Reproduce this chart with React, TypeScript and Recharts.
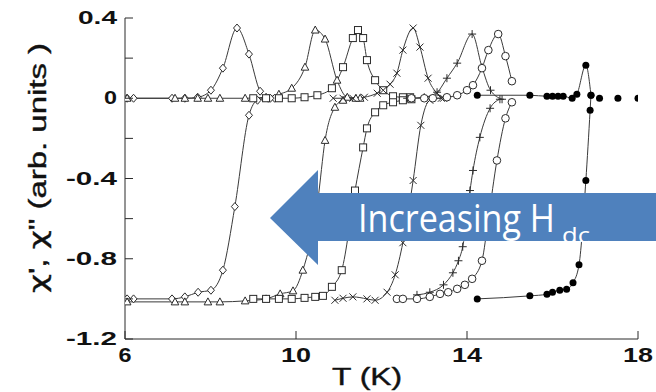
import { LineChart, Line, XAxis, YAxis } from "recharts";

type Pt = { t: number; v: number };
const pts = (pairs: number[][]): Pt[] => pairs.map(([t, v]) => ({ t, v }));

// temperature (K) vs chi (arb. units), one pair of curves per dc field
const diamondChi2 = pts([[6.05, 0], [6.2, 0], [7.1, 0], [7.4, 0], [7.7, 0.005], [8.01, 0.04], [8.29, 0.15], [8.62, 0.35], [8.9, 0.22], [9.16, 0.035], [9.35, 0], [9.5, 0]]);
const diamondChi1 = pts([[6.05, -1.0], [6.2, -1.0], [7.1, -1.0], [7.4, -0.99], [7.71, -0.967], [8.01, -0.957], [8.29, -0.857], [8.57, -0.54], [8.9, -0.085], [9.1, -0.01], [9.4, 0]]);

const triangleChi2 = pts([[6.05, 0], [7.17, 0], [7.4, 0], [7.7, 0], [7.94, 0], [8.22, 0], [8.81, 0], [9.3, 0.005], [9.6, 0.02], [9.9, 0.05], [10.21, 0.155], [10.45, 0.34], [10.68, 0.295], [10.96, 0.09], [11.2, 0.005], [11.5, 0]]);
const triangleChi1 = pts([[6.05, -1.015], [7.17, -1.015], [7.4, -1.015], [7.94, -1.015], [8.22, -1.015], [8.81, -1.01], [9.3, -1.0], [9.63, -0.975], [9.93, -0.96], [10.16, -0.857], [10.51, -0.51], [10.68, -0.21], [10.91, -0.045], [11.1, -0.01], [11.4, 0]]);

const squareChi2 = pts([[9.0, 0], [9.3, 0], [9.6, 0], [9.9, 0], [10.2, 0.005], [10.5, 0.015], [10.84, 0.05], [11.1, 0.155], [11.33, 0.3], [11.45, 0.34], [11.57, 0.3], [11.66, 0.19], [11.85, 0.09], [12.04, 0.04], [12.27, 0.01], [12.5, 0.005], [12.67, 0.005]]);
const squareChi1 = pts([[9.0, -1.0], [9.3, -1.0], [9.6, -1.0], [9.9, -1.0], [10.2, -0.995], [10.45, -0.99], [10.63, -0.985], [10.84, -0.94], [11.07, -0.857], [11.38, -0.46], [11.57, -0.245], [11.66, -0.15], [11.85, -0.07], [12.04, -0.035], [12.27, -0.02], [12.5, -0.01], [12.7, -0.005]]);

const crossChi2 = pts([[10.87, 0], [11.1, 0], [11.33, 0], [11.6, 0.005], [11.9, 0.025], [12.04, 0.04], [12.2, 0.07], [12.36, 0.125], [12.5, 0.24], [12.74, 0.35], [12.9, 0.255], [13.09, 0.1], [13.3, 0.025], [13.45, 0]]);
const crossChi1 = pts([[10.91, -1.007], [11.1, -0.997], [11.33, -0.99], [11.66, -1.0], [11.85, -1.007], [12.13, -0.967], [12.32, -0.88], [12.5, -0.72], [12.74, -0.41], [12.92, -0.135], [13.13, -0.01], [13.4, 0]]);

const plusChi2 = pts([[12.6, 0], [13.0, 0.005], [13.3, 0.03], [13.53, 0.1], [13.77, 0.175], [14.12, 0.32], [14.35, 0.155], [14.55, 0.04], [14.82, -0.005]]);
const plusChi1 = pts([[12.83, -0.98], [13.13, -0.967], [13.45, -0.93], [13.67, -0.87], [13.8, -0.81], [13.9, -0.74], [14.07, -0.46], [14.14, -0.36], [14.3, -0.195], [14.54, -0.05], [14.77, -0.005]]);

const circleChi2 = pts([[12.7, 0], [13.0, 0], [13.2, 0], [13.53, 0.005], [13.77, 0.015], [14.0, 0.04], [14.14, 0.065], [14.35, 0.15], [14.5, 0.24], [14.73, 0.32], [14.9, 0.21], [15.05, 0.085]]);
const circleChi1 = pts([[12.36, -1.0], [12.5, -1.0], [12.83, -1.0], [13.13, -0.99], [13.37, -0.975], [13.56, -0.967], [13.77, -0.95], [13.95, -0.93], [14.12, -0.9], [14.35, -0.81], [14.5, -0.6], [14.7, -0.31], [14.9, -0.1], [15.05, -0.02]]);

const filledChi2 = pts([[14.24, 0.015], [15.47, 0.015], [15.87, 0.01], [16.0, 0.01], [16.13, 0.01], [16.25, 0.01], [16.46, 0], [16.57, 0.02], [16.78, 0.165], [16.9, 0.015]]);
const filledTail = pts([[17.1, 0], [17.53, 0], [18.0, 0]]);
const filledChi1 = pts([[14.24, -1.0], [15.47, -0.985], [15.87, -0.977], [16.0, -0.967], [16.17, -0.957], [16.33, -0.952], [16.48, -0.92], [16.62, -0.83], [16.78, -0.41], [16.88, -0.06], [16.9, 0.015]]);

const xTicks = [6, 10, 14, 18];
const yTicks = [0.4, 0.2, 0, -0.2, -0.4, -0.6, -0.8, -1.0, -1.2];

const series = [
  { id: "diamond", curves: [diamondChi2, diamondChi1] },
  { id: "triangle", curves: [triangleChi2, triangleChi1] },
  { id: "square", curves: [squareChi2, squareChi1] },
  { id: "cross", curves: [crossChi2, crossChi1] },
  { id: "plus", curves: [plusChi2, plusChi1] },
  { id: "circle", curves: [circleChi2, circleChi1] },
  { id: "filled", curves: [filledChi2, filledChi1] },
];

const INK = "#2b2b2b";
const FONT = "'Liberation Sans', Arial, sans-serif";

function Marker({ kind, cx, cy }: { kind: string; cx: number; cy: number }) {
  const s = { stroke: INK, strokeWidth: 1, fill: "#fff" };
  switch (kind) {
    case "diamond":
      return <polygon points={`${cx},${cy - 4} ${cx + 3.5},${cy} ${cx},${cy + 4} ${cx - 3.5},${cy}`} {...s} />;
    case "triangle":
      return <polygon points={`${cx},${cy - 4} ${cx + 3.8},${cy + 3} ${cx - 3.8},${cy + 3}`} {...s} />;
    case "square":
      return <rect x={cx - 3.5} y={cy - 3.5} width={7} height={7} {...s} />;
    case "cross":
      return (
        <g stroke={INK} strokeWidth={1}>
          <line x1={cx - 3.5} y1={cy - 3.5} x2={cx + 3.5} y2={cy + 3.5} />
          <line x1={cx - 3.5} y1={cy + 3.5} x2={cx + 3.5} y2={cy - 3.5} />
        </g>
      );
    case "plus":
      return (
        <g stroke={INK} strokeWidth={1}>
          <line x1={cx - 4} y1={cy} x2={cx + 4} y2={cy} />
          <line x1={cx} y1={cy - 4} x2={cx} y2={cy + 4} />
        </g>
      );
    case "circle":
      return <circle cx={cx} cy={cy} r={3.8} {...s} />;
    default:
      return <circle cx={cx} cy={cy} r={3.5} fill="#000" />;
  }
}

const dotFor = (kind: string) => (p: any) => (
  <g key={`${kind}-${p.index}-${p.cx}`}>
    <Marker kind={kind} cx={p.cx} cy={p.cy} />
  </g>
);

const yLabel = (v: number) => (Math.abs(Math.round(v * 10)) % 4 === 0 ? (Math.abs(v) < 1e-9 ? "0" : v.toFixed(1)) : "");

function LeftTick(p: any) {
  const v = p.payload.value;
  const label = yLabel(v);
  return (
    <g>
      <line x1={p.x + 8} x2={p.x + 16} y1={p.y} y2={p.y} stroke={INK} />
      {label && (
        <text x={p.x} y={p.y + 6} textAnchor="end" fontFamily={FONT} fontWeight="bold" fontSize={18}
          textLength={label.length * 13 - (label.startsWith("-") ? 1 : 0)} lengthAdjust="spacingAndGlyphs" fill="#111">
          {label}
        </text>
      )}
    </g>
  );
}

function RightTick(p: any) {
  return <line x1={p.x - 8} x2={p.x - 16} y1={p.y} y2={p.y} stroke={INK} />;
}

function BottomTick(p: any) {
  const label = String(p.payload.value);
  return (
    <g>
      <line x1={p.x} x2={p.x} y1={p.y - 8} y2={p.y - 16} stroke={INK} />
      <text x={p.x} y={p.y + 15} textAnchor="middle" fontFamily={FONT} fontWeight="bold" fontSize={21}
        textLength={label.length === 1 ? 13 : 30} lengthAdjust="spacingAndGlyphs" fill="#111">
        {label}
      </text>
    </g>
  );
}

function TopTick(p: any) {
  return <line x1={p.x} x2={p.x} y1={p.y + 8} y2={p.y + 16} stroke={INK} />;
}

export default function App() {
  return (
    <div style={{ position: "fixed", left: 0, top: 0, width: 656, height: 392, background: "#fff" }}>
      <LineChart width={656} height={392} margin={{ top: 18, right: 18, bottom: 0, left: 0 }}>
        <XAxis dataKey="t" type="number" domain={[6, 18]} ticks={xTicks} height={53} tickSize={8} tickMargin={0}
          tickLine={false} axisLine={{ stroke: INK }} tick={BottomTick} allowDataOverflow />
        <XAxis xAxisId="top" orientation="top" type="number" domain={[6, 18]} ticks={xTicks} height={0} tickSize={8}
          tickMargin={0} tickLine={false} axisLine={{ stroke: INK }} tick={TopTick} />
        <YAxis type="number" domain={[-1.2, 0.4]} ticks={yTicks} width={125} tickSize={8} tickMargin={0}
          tickLine={false} axisLine={{ stroke: INK }} tick={LeftTick} allowDataOverflow interval={0} />
        <YAxis yAxisId="right" orientation="right" type="number" domain={[-1.2, 0.4]} ticks={yTicks} width={0}
          tickSize={8} tickMargin={0} tickLine={false} axisLine={{ stroke: INK }} tick={RightTick} interval={0} />
        {series.flatMap((s) =>
          s.curves.map((c, i) => (
            <Line key={`${s.id}-${i}`} data={c} dataKey="v" type="monotone" stroke="#3a3a3a" strokeWidth={1}
              dot={dotFor(s.id)} activeDot={false} isAnimationActive={false} />
          ))
        )}
        <Line data={filledTail} dataKey="v" stroke="none" dot={dotFor("filled")} activeDot={false} isAnimationActive={false} />
      </LineChart>
      <svg width={656} height={392} style={{ position: "absolute", left: 0, top: 0, pointerEvents: "none" }}>
        <text x={46} y={168} transform="rotate(-90, 46, 168)" textAnchor="middle" fontFamily={FONT} fontSize={23}
          textLength={250} lengthAdjust="spacingAndGlyphs" fill="#111" stroke="#111" strokeWidth={0.4}>
          <tspan fontFamily="'DejaVu Sans', sans-serif">χ</tspan>', <tspan fontFamily="'DejaVu Sans', sans-serif">χ</tspan>" (arb. units )
        </text>
        <text x={367} y={385} textAnchor="middle" fontFamily={FONT} fontSize={23} textLength={70}
          lengthAdjust="spacingAndGlyphs" fill="#111" stroke="#111" strokeWidth={0.4}>
          T (K)
        </text>
        <polygon points="270,218 318,170 318,193 656,193 656,241 318,241 318,265" fill="#4F81BD" />
        <text x={358} y={232} fontFamily="'Open Sans', sans-serif" fontSize={38} fill="#fff">
          <tspan textLength={197} lengthAdjust="spacingAndGlyphs">Increasing H</tspan>
          <tspan x={562} y={243} fontSize={21} textLength={28} lengthAdjust="spacingAndGlyphs">dc</tspan>
        </text>
      </svg>
    </div>
  );
}
